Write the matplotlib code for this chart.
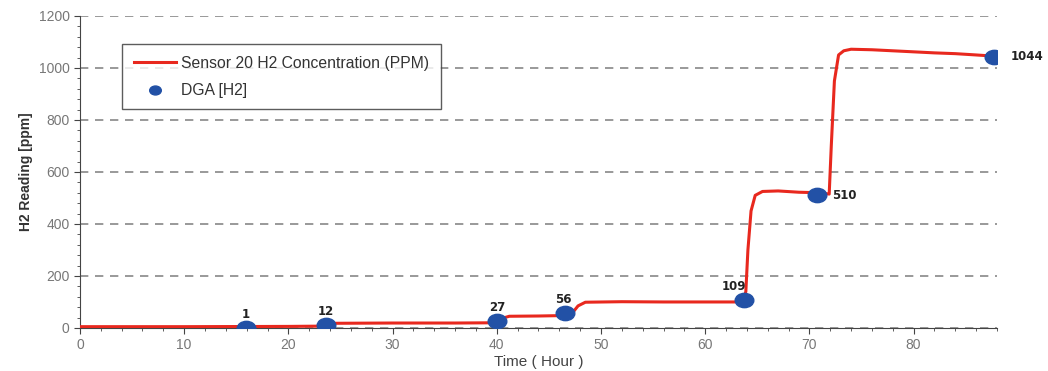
import matplotlib.pyplot as plt
from matplotlib.ticker import MultipleLocator
from matplotlib.path import Path
from matplotlib.transforms import Affine2D

plt.rcParams['font.family'] = ['Liberation Sans', 'DejaVu Sans']

# sensor trace (hour, ppm)
sensor_t = [0, 10, 20, 23.0, 23.8, 24.5, 30, 36, 40.0, 40.6, 41.2, 44, 46.8,
            47.3, 47.8, 48.5, 52, 56, 60, 63.6, 63.9, 64.1, 64.4, 64.8, 65.5,
            67, 69, 71, 71.9, 72.1, 72.4, 72.8, 73.3, 74, 76, 78, 80, 82, 84,
            86, 87.5]
sensor_ppm = [5, 5, 6, 7, 14, 18, 19, 19, 20, 38, 45, 46, 48,
              60, 85, 99, 101, 100, 100, 100, 140, 300, 450, 510, 525,
              527, 522, 520, 515, 700, 950, 1050, 1066, 1072, 1070, 1066, 1062, 1058, 1055,
              1050, 1046]

# DGA lab samples
dga_t = [15.9, 23.6, 40.0, 46.5, 63.7, 70.7, 87.7]
dga_ppm = [1, 12, 27, 56, 109, 510, 1044]
dga_labels = ['1', '12', '27', '56', '109', '510', '1044']
label_offsets = [(0, 5), (0, 5), (0, 5), (-1, 5), (-7, 5), (11, 0), (12, 0)]

# wide ellipse marker like the original
ellipse = Path.unit_circle().transformed(Affine2D().scale(1.3, 1.0))

fig = plt.figure(figsize=(10.48, 3.71), dpi=100)
ax = fig.add_axes([0.0763, 0.116, 0.875, 0.841])

ax.plot(sensor_t, sensor_ppm, color='#e8281e', lw=2.2, label='Sensor 20 H2 Concentration (PPM)', zorder=3)
ax.scatter(dga_t, dga_ppm, s=180, marker=ellipse, color='#2251a6', label='DGA [H2]', zorder=4)

for x, y, lab, off in zip(dga_t, dga_ppm, dga_labels, label_offsets):
    ax.annotate(lab, (x, y), xytext=off, textcoords='offset points',
                ha='center' if off[1] else 'left', va='bottom' if off[1] else 'center',
                fontsize=8.5, fontweight='bold', color='#222222', family='DejaVu Sans')

ax.set_xlim(0, 88)
ax.set_ylim(0, 1200)
ax.xaxis.set_major_locator(MultipleLocator(10))
ax.xaxis.set_minor_locator(MultipleLocator(2))
ax.yaxis.set_major_locator(MultipleLocator(200))
ax.yaxis.set_minor_locator(MultipleLocator(40))
ax.tick_params(which='both', direction='out', colors='#444444', labelcolor='#777777', labelsize=10)
ax.tick_params(which='major', length=4)
ax.tick_params(which='minor', length=2)

ax.spines['top'].set_visible(False)
ax.spines['right'].set_visible(False)
ax.spines['left'].set_color('#444444')
ax.spines['bottom'].set_color('#444444')

ax.yaxis.grid(True, linestyle=(0, (5, 4)), color='#888888', lw=1.2)
ax.set_axisbelow(True)

ax.set_xlabel('Time ( Hour )', fontsize=11, color='#444444', labelpad=2)
ax.set_ylabel('H2 Reading [ppm]', fontsize=10, fontweight='bold', color='#333333')

leg = ax.legend(loc='upper left', bbox_to_anchor=(0.046, 0.91), fontsize=11.3,
                frameon=True, fancybox=False, edgecolor='#333333', borderaxespad=0,
                handlelength=2.7, handletextpad=0.3, borderpad=0.75, labelspacing=0.75,
                scatterpoints=1)
leg.get_frame().set_linewidth(1.0)
leg.legend_handles[1].set_sizes([70])
for t in leg.get_texts():
    t.set_color('#333333')

fig.savefig('out.png', dpi=100)
